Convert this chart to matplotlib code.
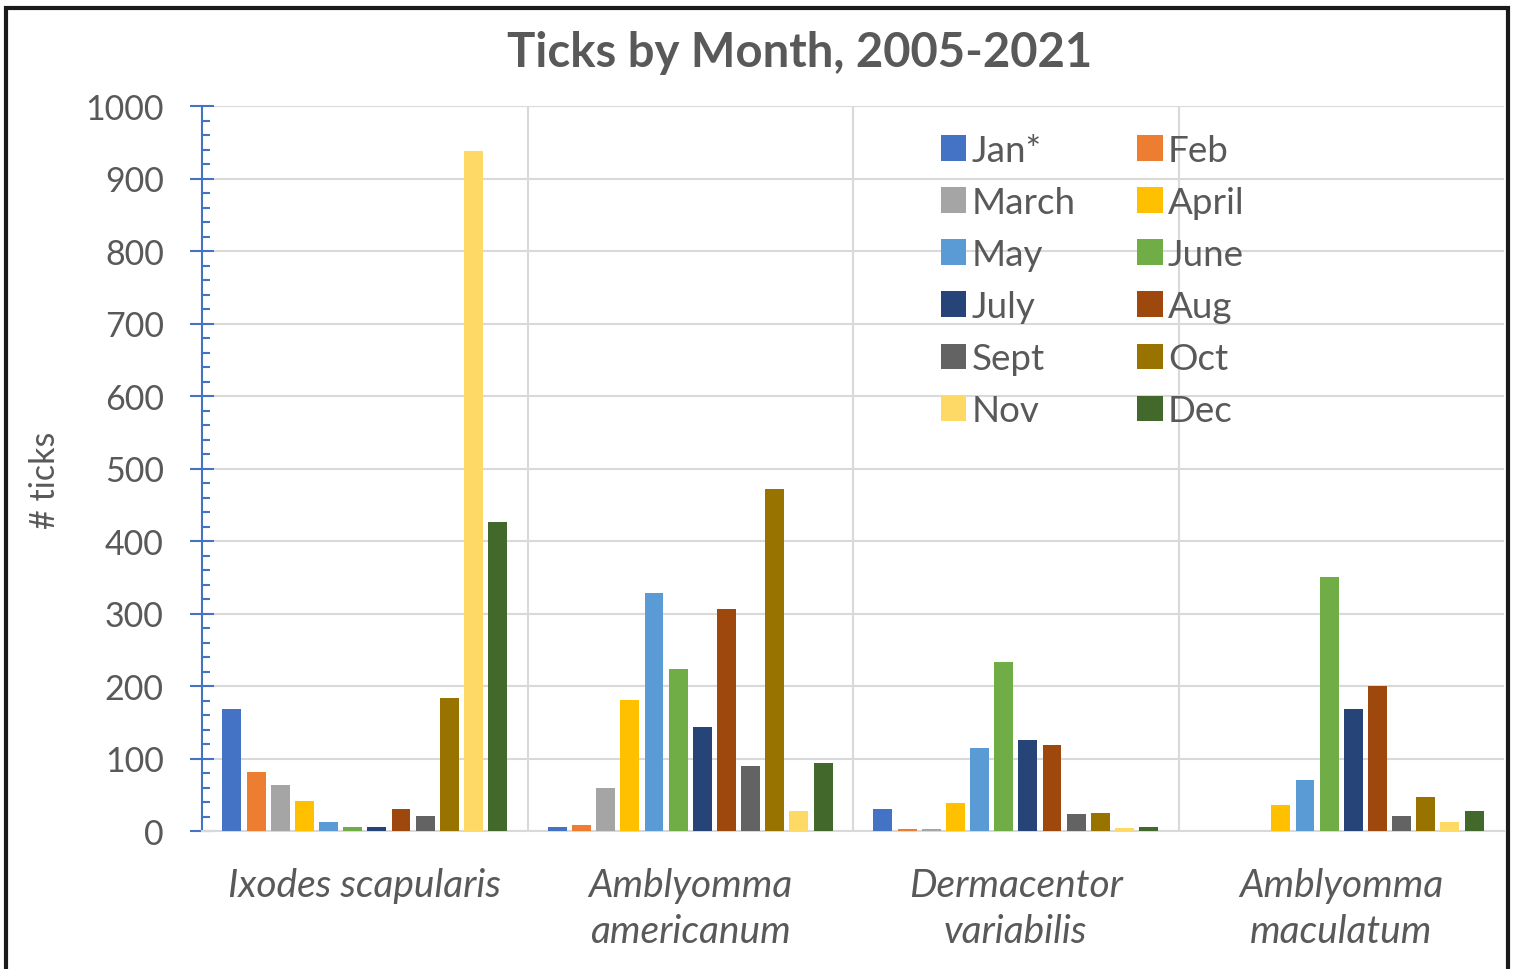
import matplotlib.pyplot as plt
from matplotlib.patches import Rectangle
from matplotlib.ticker import MultipleLocator
from typing import List

# Tick species on the x axis
species = ['Ixodes scapularis', 'Amblyomma\namericanum',
           'Dermacentor\nvariabilis', 'Amblyomma\nmaculatum']

months = ['Jan*', 'Feb', 'March', 'April', 'May', 'June',
          'July', 'Aug', 'Sept', 'Oct', 'Nov', 'Dec']

month_colors = ['#4472C4', '#ED7D31', '#A5A5A5', '#FFC000', '#5B9BD5', '#70AD47',
                '#264478', '#9E480E', '#636363', '#997300', '#FFD966', '#43682B']

# Counts per month, one list per species (same order as `species`)
ixodes_scapularis = [168, 81, 64, 42, 13, 5, 5, 31, 21, 184, 938, 426]
amblyomma_americanum = [5, 8, 59, 181, 328, 223, 144, 306, 89, 472, 27, 94]
dermacentor_variabilis = [31, 3, 3, 38, 114, 233, 125, 118, 24, 25, 4, 5]
amblyomma_maculatum = [0, 0, 0, 36, 70, 351, 168, 200, 21, 47, 12, 27]

y_ticks = [0, 100, 200, 300, 400, 500, 600, 700, 800, 900, 1000]

TEXT_GRAY = '#595959'
GRID_GRAY = '#D9D9D9'
AXIS_BLUE = '#4472C4'
FONT = ['Lato', 'DejaVu Sans']


def counts_by_month() -> List[List[int]]:
    """Regroup the per-species lists into one list per month."""
    table = [ixodes_scapularis, amblyomma_americanum,
             dermacentor_variabilis, amblyomma_maculatum]
    return [[row[m] for row in table] for m in range(len(months))]


def plot_chart(output_filename: str) -> None:
    plt.rcParams['font.family'] = FONT
    fig = plt.figure(figsize=(15.14, 9.70), dpi=100)
    ax = fig.add_axes([202 / 1514, 1 - 832 / 970, 1302 / 1514, 725 / 970])

    x = list(range(len(species)))
    slot = 0.0742
    width = 0.058
    bars = []
    for i, values in enumerate(counts_by_month()):
        offset = (i - 5.5) * slot
        b = ax.bar([p + offset for p in x], values, width=width,
                   color=month_colors[i], label=months[i], zorder=3)
        bars.append(b)

    ax.set_xlim(-0.5, len(species) - 0.5)
    ax.set_ylim(0, 1000)
    ax.set_yticks(y_ticks)
    ax.yaxis.set_minor_locator(MultipleLocator(20))

    # Grid: horizontal at majors, vertical between species groups
    ax.set_xticks(x)
    ax.set_xticks([p + 0.5 for p in x[:-1]], minor=True)
    ax.grid(axis='y', which='major', color=GRID_GRAY, linewidth=1.5, zorder=0)
    ax.grid(axis='x', which='minor', color=GRID_GRAY, linewidth=1.5, zorder=0)

    ax.set_xticklabels(species, fontsize=28, style='italic', color=TEXT_GRAY,
                       linespacing=1.35)
    ax.tick_params(axis='x', which='both', length=0, pad=26)
    ax.tick_params(axis='y', which='major', direction='inout', length=17,
                   width=1.5, color=AXIS_BLUE, labelsize=24.5, labelcolor=TEXT_GRAY, pad=19)
    ax.tick_params(axis='y', which='minor', direction='in', length=6,
                   width=1.5, color=AXIS_BLUE)

    for side in ['top', 'right']:
        ax.spines[side].set_visible(False)
    ax.spines['left'].set_color(AXIS_BLUE)
    ax.spines['left'].set_linewidth(1.5)
    ax.spines['bottom'].set_color(GRID_GRAY)
    ax.spines['bottom'].set_linewidth(1.5)

    fig.text(800 / 1514, 1 - 53 / 970, 'Ticks by Month, 2005-2021', ha='center', va='center',
             fontsize=34, fontweight='bold', color=TEXT_GRAY)
    fig.text(45 / 1514, 1 - 480 / 970, '# ticks', ha='center', va='center', rotation=90,
             fontsize=24.5, color=TEXT_GRAY)

    # Legend in row order: Jan/Feb, March/April, ...
    order = list(range(0, 12, 2)) + list(range(1, 12, 2))
    leg = ax.legend([bars[k] for k in order], [months[k] for k in order],
                    ncol=2, loc='upper left', bbox_to_anchor=(926 / 1514, 1 - 120 / 970),
                    bbox_transform=fig.transFigure, frameon=False, fontsize=26.5,
                    handlelength=0.7, handleheight=0.7, handletextpad=0.15,
                    labelspacing=0.52, columnspacing=1.65, borderaxespad=0)
    for t in leg.get_texts():
        t.set_color(TEXT_GRAY)

    # Black frame around the figure (bottom edge runs off the image)
    fig.patches.append(Rectangle((6 / 1514, -0.05), 1502 / 1514, 1.05 - 8.5 / 970,
                                 transform=fig.transFigure, fill=False,
                                 edgecolor='#1A1A1A', linewidth=3))

    fig.savefig(output_filename, dpi=100)


if __name__ == '__main__':
    plot_chart('out.png')
